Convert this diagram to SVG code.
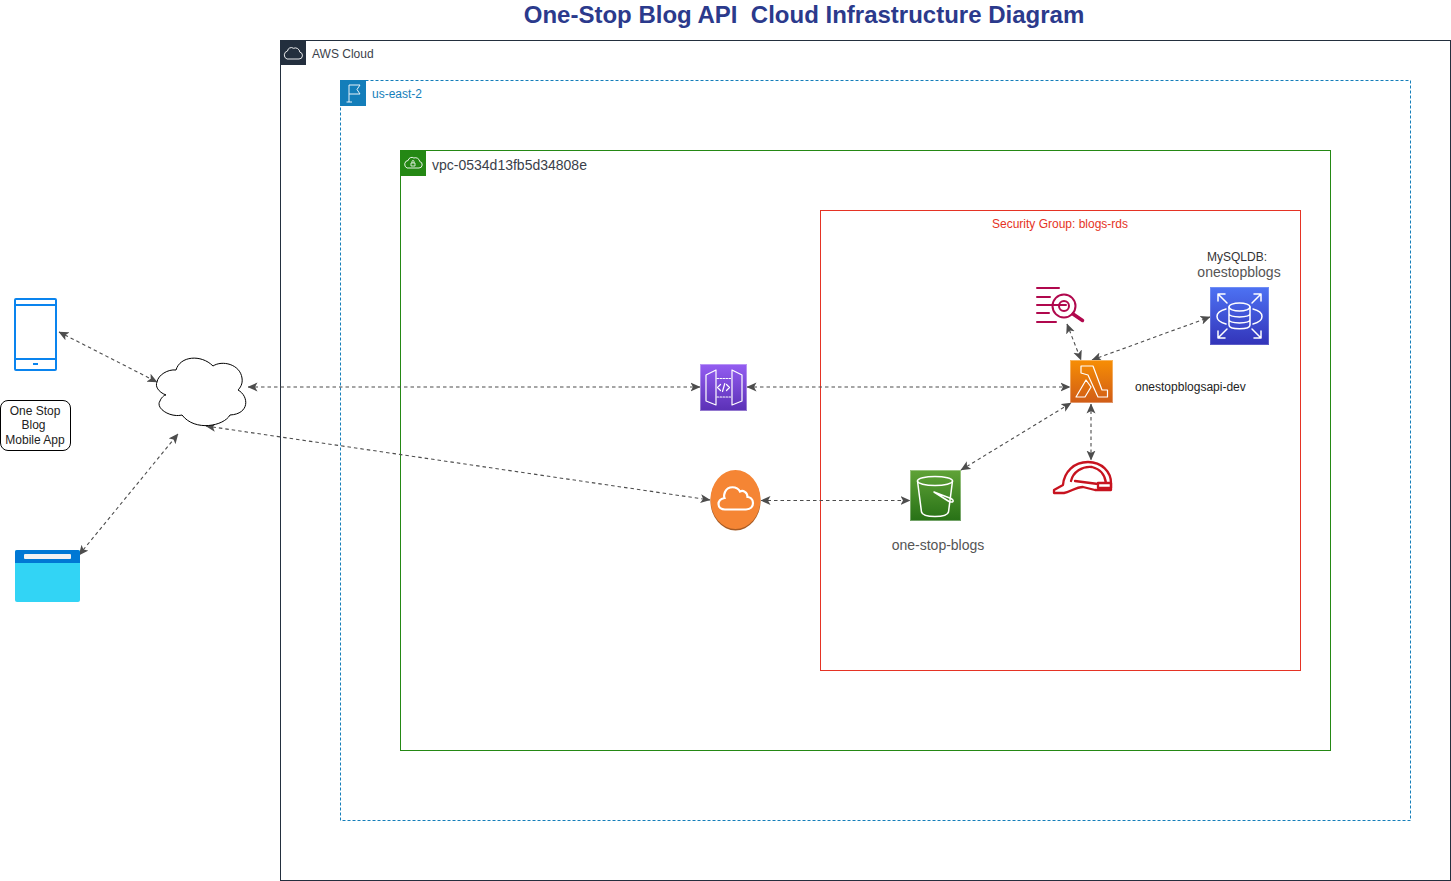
<svg xmlns="http://www.w3.org/2000/svg" width="1451" height="881" viewBox="0 0 1451 881">
<style>
text{font-family:"Liberation Sans",Arial,sans-serif;fill:#3a3f4a}
.g{fill:none;stroke-width:1}
.c{fill:none;stroke:#4d4d4d;stroke-width:1.1;stroke-dasharray:3.500 3;marker-start:url(#a);marker-end:url(#a)}
.w{fill:none;stroke:#fff;stroke-width:1.5;stroke-linejoin:round;stroke-linecap:round}
.t{fill:none;stroke:#fff;stroke-width:1.2;stroke-linejoin:round;stroke-linecap:round}
.m{fill:none;stroke:#b0084d;stroke-width:2;stroke-linecap:round}
.r{fill:none;stroke:#c7131f;stroke-width:2.300;stroke-linejoin:round;stroke-linecap:round}
</style>
<defs>
<marker id="a" viewBox="0 0 10 10" refX="9.500" refY="5" markerWidth="10" markerHeight="10" markerUnits="userSpaceOnUse" orient="auto-start-reverse"><path d="M0 .5L10 5L0 9.500L2.500 5Z" fill="#4d4d4d"/></marker>
<linearGradient id="gl" x1="0" y1="1" x2="0" y2="0"><stop offset="0" stop-color="#d05c17"/><stop offset="1" stop-color="#f78e04"/></linearGradient>
<linearGradient id="gd" x1="0" y1="1" x2="0" y2="0"><stop offset="0" stop-color="#3334b9"/><stop offset="1" stop-color="#4d72f3"/></linearGradient>
<linearGradient id="ga" x1="0" y1="1" x2="0" y2="0"><stop offset="0" stop-color="#5a30b5"/><stop offset="1" stop-color="#945df2"/></linearGradient>
<linearGradient id="gs" x1="0" y1="1" x2="0" y2="0"><stop offset="0" stop-color="#277116"/><stop offset="1" stop-color="#60a337"/></linearGradient>
</defs>
<text x="804" y="23" text-anchor="middle" font-size="24" font-weight="bold" style="fill:#2b3a8c" xml:space="preserve">One-Stop Blog API  Cloud Infrastructure Diagram</text>

<g id="aws-cloud">
<rect class="g" x="280.500" y="40.500" width="1170" height="840" stroke="#232f3e"/>
<rect x="280" y="40" width="26" height="25" fill="#232f3e"/>
<path d="M287 59h12a3.500 3.500 0 0 0 .8-6.900a4.500 4.500 0 0 0-6.300-3.800a3.800 3.800 0 0 0-6 2.700a4.200 4.200 0 0 0-.5 8Z" fill="none" stroke="#fff" stroke-width=".9"/>
<text x="312" y="58" font-size="12">AWS Cloud</text>
</g>
<g id="region">
<rect class="g" x="340.500" y="80.500" width="1070" height="740" stroke="#147eba" stroke-dasharray="3 2"/>
<rect x="340" y="80" width="26" height="26" fill="#147eba"/>
<path d="M349 102V85H360L357 89.500L360 94H349M346.500 102H352" fill="none" stroke="#fff" stroke-width=".9"/>
<text x="372" y="98" font-size="12" style="fill:#147eba">us-east-2</text>
</g>
<g id="vpc">
<rect class="g" x="400.500" y="150.500" width="930" height="600" stroke="#248814"/>
<rect x="400" y="150" width="26" height="26" fill="#248814"/>
<path d="M407 168h12a3.300 3.300 0 0 0 .7-6.500a4.300 4.300 0 0 0-5.800-3.500a3.700 3.700 0 0 0-5.700 2.400a4 4 0 0 0-1.200 7.600Z" fill="none" stroke="#fff" stroke-width=".9"/>
<path d="M411 163h4v3h-4ZM412 163v-1.500a1 1 0 0 1 2 0V163" fill="none" stroke="#fff" stroke-width=".8"/>
<text x="432" y="170" font-size="14">vpc-0534d13fb5d34808e</text>
</g>
<g id="security-group">
<rect class="g" x="820.500" y="210.500" width="480" height="460" stroke="#e53324"/>
<text x="1060" y="228" text-anchor="middle" font-size="12" style="fill:#e53324">Security Group: blogs-rds</text>
</g>

<g id="connectors">
<path class="c" d="M59 332L157 382"/>
<path class="c" d="M79 555L178 434"/>
<path class="c" d="M248 387H700"/>
<path class="c" d="M206 426L710 500"/>
<path class="c" d="M747 387H1070"/>
<path class="c" d="M761 500.500H910"/>
<path class="c" d="M961 470L1071 403"/>
<path class="c" d="M1067 324L1081 360"/>
<path class="c" d="M1092 360L1210 317"/>
<path class="c" d="M1091 404V460"/>
</g>

<g id="mobile-device">
<rect x="15" y="299" width="41" height="71" rx="1" fill="#fff" stroke="#0a84ee" stroke-width="2"/>
<path d="M15 305H56M15 359H56" stroke="#0a84ee" stroke-width="2"/>
<rect x="33" y="363" width="5" height="2" fill="#0a84ee"/>
</g>
<g id="mobile-app-label">
<rect x="0.500" y="400.500" width="70" height="50" rx="7.500" fill="#fff" stroke="#000"/>
<text text-anchor="middle" font-size="12" style="fill:#222"><tspan x="35" y="415">One Stop</tspan><tspan x="33.500" y="429">Blog</tspan><tspan x="35" y="444">Mobile App</tspan></text>
</g>
<g id="browser">
<rect x="15" y="550" width="65" height="52" rx="2" fill="#32d4f5"/>
<path d="M15 563V552a2 2 0 0 1 2-2H78a2 2 0 0 1 2 2V563Z" fill="#0078d4"/>
<rect x="24" y="554" width="47" height="5" rx="1" fill="#f2f2f2"/>
</g>
<g id="internet-cloud">
<path d="M176 370C180 356 201 354 213 366C222 360 240 364 242 378C243 384 240 388 238 390C249 396 250 414 230 415C224 426 195 432 182 415C170 418 155 408 160 401C161 398 164 395 166 395C158 392 155 386 157 382C158 375 168 369 176 370Z" fill="#fff" stroke="#000" stroke-width="1"/>
</g>
<g id="api-gateway">
<rect x="700" y="364" width="47" height="47" fill="url(#ga)"/>
<rect x="700.500" y="364.500" width="46" height="46" fill="none" stroke="#fff" stroke-opacity=".35"/>
<path class="t" d="M706 375L716 370V405L706 401ZM742 375L732 370V405L742 401Z"/>
<path class="t" stroke-dasharray="1.500 1.500" stroke-linecap="butt" d="M717 378.500H731M717 397H731"/>
<path class="t" d="M720.500 384.500L717.500 387.500L720.500 390.500M726.500 384.500L729.500 387.500L726.500 390.500M724.800 383.500L722.500 391.500"/>
</g>
<g id="internet-gateway">
<ellipse cx="735.500" cy="501" rx="25" ry="29.500" fill="#a65b25"/>
<ellipse cx="735.500" cy="499.500" rx="25" ry="29.500" fill="#f58534"/>
<path d="M725 509.500H746C751 509.500 753 506 753 503C753 499 750 497 747.500 497C747.500 492 743 490 740 491.500C737 486 728 485.500 725 492C723.500 496 724 497 724.500 498C720 499 718.500 502 718.500 504C718.500 507.500 721.500 509.500 725 509.500Z" fill="none" stroke="#fff" stroke-width="2.200"/>
</g>
<g id="s3-bucket">
<rect x="910" y="470" width="51" height="51" fill="url(#gs)"/>
<rect x="910.500" y="470.500" width="50" height="50" fill="none" stroke="#fff" stroke-opacity=".35"/>
<ellipse cx="935" cy="481" rx="17.500" ry="4.500" class="w"/>
<path class="w" d="M917.500 481L921.500 512C923 518 947 518 948.500 512L952.500 481"/>
<path class="w" d="M934 492L951 498.500C955 501 953 503 949 501.500L934 492Z"/>
<text x="938" y="550" text-anchor="middle" font-size="14" style="fill:#555">one-stop-blogs</text>
</g>
<g id="lambda">
<rect x="1070" y="360" width="43" height="43" fill="url(#gl)"/>
<rect x="1070.500" y="360.500" width="42" height="42" fill="none" stroke="#fff" stroke-opacity=".35"/>
<path class="t" stroke-width="1" d="M1081 366H1093L1102 390H1107.500V397H1098L1088 375L1081 373ZM1086 380L1076 397H1085L1091 387Z"/>
<text x="1135" y="391" font-size="12" style="fill:#222">onestopblogsapi-dev</text>
</g>
<g id="rds">
<rect x="1210" y="287" width="59" height="58" fill="url(#gd)"/>
<rect x="1210.500" y="287.500" width="58" height="57" fill="none" stroke="#fff" stroke-opacity=".2"/>
<ellipse cx="1239.500" cy="307" rx="10.500" ry="4" class="w"/>
<path class="w" d="M1229 307V325C1229 330 1250 330 1250 325V307M1229 313.500C1229 318 1250 318 1250 313.500M1229 319.500C1229 324 1250 324 1250 319.500"/>
<path class="w" d="M1226 309C1214 312 1214 321 1226 324M1253 309C1265 312 1265 321 1253 324"/>
<path class="w" d="M1218 294L1227 303M1218 294V301M1218 294H1225M1261 294L1252 303M1261 294V301M1261 294H1254M1218 338L1227 329M1218 338V331M1218 338H1225M1261 338L1252 329M1261 338V331M1261 338H1254"/>
<text text-anchor="middle" style="fill:#555"><tspan x="1237" y="261" font-size="12" style="fill:#333">MySQLDB:</tspan><tspan x="1239" y="277" font-size="14">onestopblogs</tspan></text>
</g>
<g id="log-insights">
<path class="m" d="M1037 288H1059M1037 297H1050M1037 305H1066M1037 313H1049M1037 322H1056"/>
<circle cx="1064" cy="306" r="11.500" class="m" stroke-width="2.400"/>
<circle cx="1064" cy="306" r="5" class="m"/>
<path d="M1073 314L1082.500 320.500" fill="none" stroke="#b0084d" stroke-width="3.500" stroke-linecap="round"/>
</g>
<g id="red-hat-helmet">
<path class="r" d="M1063 485C1064 472 1074 462 1088 462C1102 462 1111 472 1111 483V490H1095L1083 487C1076 487 1070 492 1064 493H1054L1054 490Z"/>
<path class="r" d="M1071 481C1073 472 1082 466 1092 467C1101 469 1105 476 1106 483M1075 481L1098 484M1098 483H1111V488H1098Z"/>
</g>
</svg>
